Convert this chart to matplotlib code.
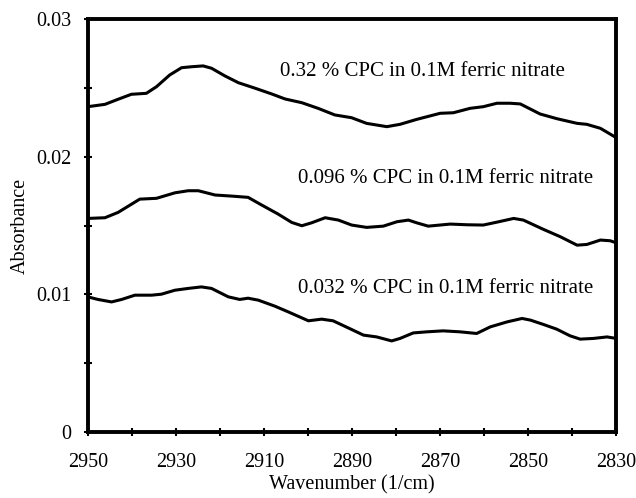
import matplotlib
matplotlib.use('Agg')
import matplotlib.pyplot as plt
import numpy as np
from matplotlib.ticker import FixedLocator, MultipleLocator

plt.rcParams['font.family'] = 'Liberation Serif'

# IR spectra of CPC in ferric nitrate, C-H stretch region
wn_high = [2950.0, 2946.1, 2943.1, 2940.1, 2936.7, 2934.4, 2931.4, 2928.7, 2926.4,
           2923.8, 2921.9, 2918.9, 2915.8, 2912.0, 2908.2, 2905.2, 2901.4, 2897.7,
           2893.9, 2890.1, 2886.7, 2882.1, 2879.1, 2875.3, 2870.0, 2867.0, 2863.2,
           2860.2, 2857.1, 2854.1, 2851.8, 2847.3, 2843.5, 2838.9, 2836.7, 2833.6,
           2830.0]
abs_high = [0.02363, 0.02380, 0.02417, 0.02453, 0.02460, 0.02508, 0.02593, 0.02646, 0.02653,
            0.02659, 0.02642, 0.02587, 0.02537, 0.02497, 0.02455, 0.02419, 0.02392, 0.02351,
            0.02303, 0.02283, 0.02242, 0.02218, 0.02235, 0.02271, 0.02315, 0.02319, 0.02351,
            0.02363, 0.02388, 0.02388, 0.02383, 0.02310, 0.02276, 0.02242, 0.02235, 0.02206,
            0.02138]

wn_mid = [2950.0, 2946.1, 2943.1, 2938.2, 2934.4, 2930.2, 2927.2, 2924.9, 2921.1,
          2917.3, 2913.6, 2910.5, 2906.8, 2903.7, 2901.4, 2899.2, 2896.1, 2893.1,
          2890.1, 2886.7, 2882.9, 2879.8, 2877.2, 2875.3, 2872.7, 2867.7, 2863.9,
          2860.2, 2857.1, 2853.3, 2851.1, 2846.5, 2842.7, 2838.9, 2836.7, 2833.6,
          2831.4, 2830.0]
abs_mid = [0.01552, 0.01557, 0.01596, 0.01692, 0.01698, 0.01738, 0.01753, 0.01753, 0.01722,
           0.01714, 0.01705, 0.01649, 0.01584, 0.01523, 0.01499, 0.01520, 0.01557, 0.01540,
           0.01504, 0.01487, 0.01496, 0.01528, 0.01540, 0.01520, 0.01496, 0.01511, 0.01506,
           0.01504, 0.01525, 0.01552, 0.01540, 0.01472, 0.01419, 0.01358, 0.01363, 0.01395,
           0.01390, 0.01375]

wn_low = [2950.0, 2947.7, 2944.6, 2942.3, 2939.3, 2935.5, 2933.3, 2930.2, 2927.2,
          2924.2, 2921.9, 2918.1, 2915.5, 2913.6, 2911.3, 2907.5, 2904.5, 2899.9,
          2896.9, 2894.3, 2890.1, 2887.4, 2884.4, 2881.0, 2879.1, 2876.1, 2873.0,
          2869.3, 2865.5, 2861.7, 2858.6, 2854.8, 2851.4, 2849.5, 2846.5, 2843.5,
          2840.5, 2838.2, 2835.2, 2832.1, 2830.0]
abs_low = [0.00983, 0.00964, 0.00946, 0.00964, 0.00995, 0.00995, 0.01002, 0.01031, 0.01044,
           0.01055, 0.01044, 0.00983, 0.00964, 0.00973, 0.00959, 0.00915, 0.00874, 0.00809,
           0.00821, 0.00809, 0.00746, 0.00705, 0.00692, 0.00663, 0.00681, 0.00721, 0.00729,
           0.00736, 0.00729, 0.00717, 0.00765, 0.00801, 0.00826, 0.00814, 0.00782, 0.00748,
           0.00700, 0.00676, 0.00681, 0.00692, 0.00681]

labels = ['0.32 % CPC in 0.1M ferric nitrate',
          '0.096 % CPC in 0.1M ferric nitrate',
          '0.032 % CPC in 0.1M ferric nitrate']
label_pos = [(2906.4, 0.02620), (2902.3, 0.0184), (2902.3, 0.01045)]

x_major = [2950, 2930, 2910, 2890, 2870, 2850, 2830]
x_minor = [2940, 2920, 2900, 2880, 2860, 2840]

fig, ax = plt.subplots(figsize=(6.36, 4.98), dpi=100)
fig.subplots_adjust(left=0.138, right=0.969, top=0.962, bottom=0.132)

for x, y in [(wn_high, abs_high), (wn_mid, abs_mid), (wn_low, abs_low)]:
    ax.plot(x, y, color='black', lw=2.2, solid_joinstyle='round', solid_capstyle='butt')

for txt, (tx, ty) in zip(labels, label_pos):
    ax.text(tx, ty, txt, fontsize=15, va='center', ha='left')

ax.set_xlim(2950, 2830)
ax.set_ylim(0, 0.03)
ax.xaxis.set_major_locator(FixedLocator(x_major))
ax.xaxis.set_minor_locator(FixedLocator(x_minor))
ax.set_yticks([0, 0.01, 0.02, 0.03])
ax.set_yticklabels(['0', '0.01', '0.02', '0.03'])
ax.yaxis.set_minor_locator(MultipleLocator(0.005))

ax.tick_params(which='both', direction='inout', width=1.5, length=6, labelsize=14.5)
ax.tick_params(axis='x', pad=12)
ax.tick_params(axis='y', pad=9)
for s in ax.spines.values():
    s.set_linewidth(2.8)

ax.set_xlabel('Wavenumber (1/cm)', fontsize=14.5, labelpad=2)
ax.set_ylabel('Absorbance', fontsize=14.5, labelpad=4)

fig.savefig('out.png', dpi=100)
